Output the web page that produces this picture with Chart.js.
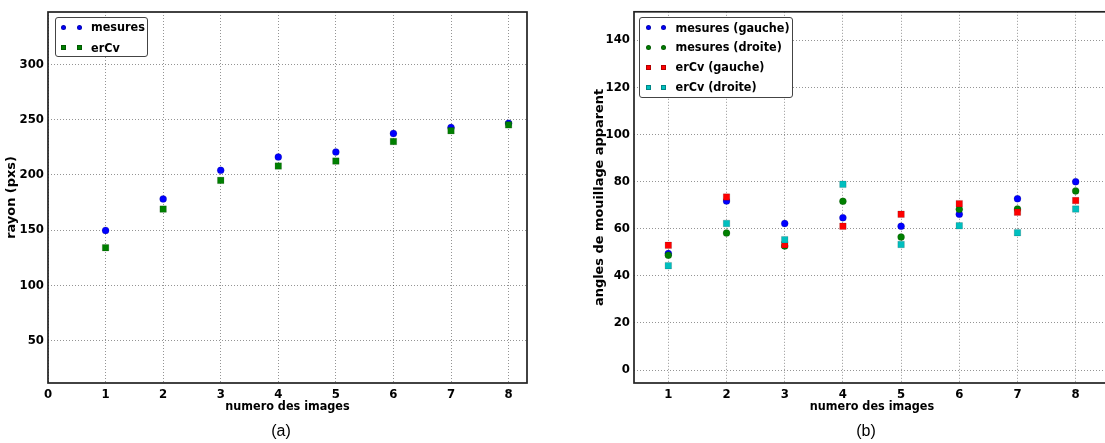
<!DOCTYPE html>
<html><head><meta charset="utf-8">
<script src="https://cdn.jsdelivr.net/npm/chart.js@4"></script>
<style>
html,body{margin:0;padding:0;width:1105px;height:443px;overflow:hidden;background:#fff;position:relative;}
.wrap{position:absolute;top:0;height:443px;}
.legend{position:absolute;background:#fff;border:1px solid #444;border-radius:3px;box-sizing:border-box;font:bold 12.5px 'DejaVu Sans Condensed','DejaVu Sans';color:#000;}
.row{position:absolute;left:0;height:20px;line-height:20px;white-space:nowrap;}
.mk{position:absolute;top:50%;box-sizing:border-box;border:0.5px solid rgba(0,0,0,0.3);}
.txt{position:absolute;top:0;}
.cap{position:absolute;top:422px;font:16px 'Liberation Sans';color:#000;transform:translateX(-50%);}
</style>
</head><body>
<div class="wrap" style="left:0;width:540px;"><canvas id="c1" width="540" height="443"></canvas></div>
<div class="wrap" style="left:560px;width:560px;"><canvas id="c2" width="560" height="443"></canvas></div>
<div class="cap" style="left:281px;">(a)</div>
<div class="cap" style="left:866px;">(b)</div>
<script>
// ---- data ----
const xImages = [1, 2, 3, 4, 5, 6, 7, 8];
const rayonMesures = [149.7, 178.2, 204.1, 216.1, 220.6, 237.5, 242.9, 246.8];
const rayonErCv = [134.0, 169.0, 195.0, 208.0, 212.5, 230.2, 240.0, 245.3];
const angleMesGauche = [49.4, 71.7, 62.2, 64.6, 61.0, 66.1, 72.7, 79.9];
const angleMesDroite = [48.7, 58.1, 52.6, 71.6, 56.4, 68.2, 68.3, 76.0];
const angleErGauche = [52.9, 73.4, 53.2, 61.0, 66.1, 70.6, 67.0, 71.9];
const angleErDroite = [44.3, 62.2, 55.3, 78.8, 53.3, 61.2, 58.3, 68.3];
const labelsA = ['mesures', 'erCv'];
const labelsB = ['mesures (gauche)', 'mesures (droite)', 'erCv (gauche)', 'erCv (droite)'];
const xTitle = 'numero des images';
const yTitleA = 'rayon (pxs)';
const yTitleB = 'angles de mouillage apparent';

const BLUE = '#0000ff', GREEN = '#008000', RED = '#ff0000', CYAN = '#00bfbf';
const toPts = (ys) => ys.map((y, i) => ({x: xImages[i], y}));

const framePlugin = {
  id: 'frame',
  beforeDatasetsDraw(chart) {
    const {ctx, chartArea: a} = chart;
    ctx.save();
    ctx.strokeStyle = '#222';
    ctx.lineWidth = 1.7;
    ctx.strokeRect(a.left, a.top, a.right - a.left, a.bottom - a.top);
    ctx.restore();
  }
};

const COND = "'DejaVu Sans Condensed', 'DejaVu Sans'";
const tickFont = {family: COND, size: 13, weight: 'bold'};
const xTitleFont = {family: COND, size: 12.5, weight: 'bold'};
const yTitleFont = {family: 'DejaVu Sans', size: 12.9, weight: 'bold'};
const gridOpts = {color: 'rgba(0,0,0,0.42)', lineWidth: 1, drawTicks: false};

function ds(label, data, color, style, order) {
  return {
    label, data: toPts(data), backgroundColor: color,
    borderColor: 'rgba(0,0,0,0.3)', borderWidth: 0.5,
    pointStyle: style, pointRadius: style === 'rect' ? 4.6 : 3.5,
    pointHoverRadius: style === 'rect' ? 4.6 : 3.5,
    showLine: false, order
  };
}

function makeChart(id, datasets, xr, yr, pad, yW, xH, yTitle) {
  return new Chart(document.getElementById(id), {
    type: 'scatter',
    data: {datasets},
    options: {
      responsive: false, animation: false,
      layout: {padding: pad},
      plugins: {legend: {display: false}, tooltip: {enabled: false}},
      scales: {
        x: {
          type: 'linear', min: xr[0], max: xr[1],
          ticks: {stepSize: 1, includeBounds: false, font: tickFont, color: '#000', padding: 4},
          grid: gridOpts,
          border: {display: false, dash: [1, 2]},
          title: {display: true, text: xTitle, font: xTitleFont, color: '#000', padding: 0},
          afterFit(s) { s.height = xH; }
        },
        y: {
          type: 'linear', min: yr[0], max: yr[1],
          ticks: {stepSize: yr[2], includeBounds: false, font: tickFont, color: '#000', padding: 4},
          grid: gridOpts,
          border: {display: false, dash: [1, 2]},
          title: {display: true, text: yTitle, font: yTitleFont, color: '#000', padding: 0},
          afterFit(s) { s.width = yW; }
        }
      }
    },
    plugins: [framePlugin]
  });
}

const chartA = makeChart('c1', [
  ds(labelsA[0], rayonMesures, BLUE, 'circle', 2),
  ds(labelsA[1], rayonErCv, GREEN, 'rect', 1)
], [0, 8.32], [11.5, 347.5, 50], {top: 12, right: 13, bottom: 29, left: 4}, 44, 31, yTitleA);

const chartB = makeChart('c2', [
  ds(labelsB[0], angleMesGauche, BLUE, 'circle', 4),
  ds(labelsB[1], angleMesDroite, GREEN, 'circle', 3),
  ds(labelsB[2], angleErGauche, RED, 'rect', 2),
  ds(labelsB[3], angleErDroite, CYAN, 'rect', 1)
], [0.41, 8.59], [-5.5, 152, 20], {top: 11, right: 10, bottom: 29, left: 32}, 42, 31, yTitleB);

function buildLegend(chart, left, top, width, height, rowTops, mk1, mk2, txtLeft) {
  const box = document.createElement('div');
  box.className = 'legend';
  Object.assign(box.style, {left: left + 'px', top: top + 'px', width: width + 'px', height: height + 'px'});
  chart.data.datasets.forEach((d, i) => {
    const row = document.createElement('div');
    row.className = 'row';
    row.style.top = rowTops[i] + 'px';
    [mk1, mk2].forEach(cx => {
      const m = document.createElement('span');
      m.className = 'mk';
      const s = 5;
      Object.assign(m.style, {width: s + 'px', height: s + 'px', left: (cx - s / 2) + 'px', marginTop: (-s / 2) + 'px',
        background: d.backgroundColor, borderRadius: d.pointStyle === 'rect' ? '0' : '50%'});
      row.appendChild(m);
    });
    const t = document.createElement('span');
    t.className = 'txt';
    t.style.left = txtLeft + 'px';
    t.textContent = d.label;
    row.appendChild(t);
    box.appendChild(row);
  });
  document.body.appendChild(box);
}
buildLegend(chartA, 55, 17, 93, 40, [-1, 19.5], 7, 23, 35);
buildLegend(chartB, 639, 17, 154, 81, [-0.5, 19, 39, 59], 8, 23, 35.5);
</script>
</body></html>
